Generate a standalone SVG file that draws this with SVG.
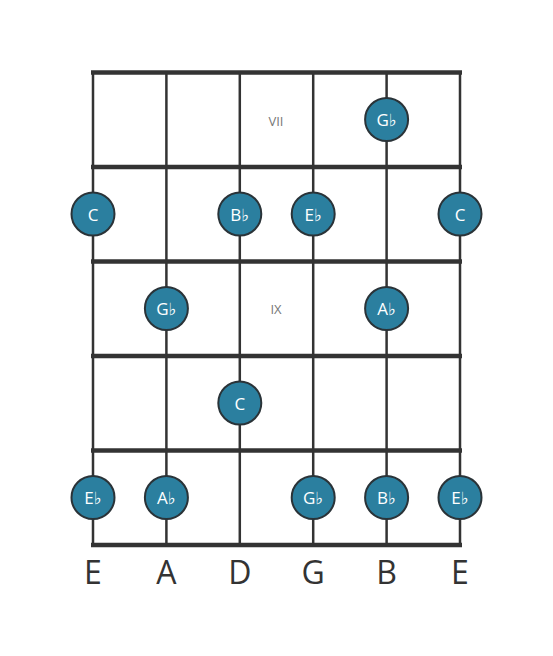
<svg xmlns="http://www.w3.org/2000/svg" width="553" height="656" viewBox="0 0 553 656">
<style>
.fret{stroke:#333;stroke-width:4.5;fill:none}
.str{stroke:#333;stroke-width:2.5;fill:none}
.dot circle{fill:#2b7f9f;stroke:#2a3338;stroke-width:2}
.dot text{fill:#fff;font-family:"Open Sans","DejaVu Sans",sans-serif;font-size:17px;text-anchor:middle;dominant-baseline:central}
.pos{fill:#777;font-family:"Open Sans",sans-serif;font-size:13px;text-anchor:middle;dominant-baseline:central}
.lbl{fill:#333;font-family:"Open Sans",sans-serif;font-size:32px;text-anchor:middle}
</style>
<rect width="553" height="656" fill="#fff"/>
<g id="connectors">
<line class="str" x1="93" y1="72" x2="93" y2="545"/>
<line class="str" x1="166.4" y1="72" x2="166.4" y2="545"/>
<line class="str" x1="239.8" y1="72" x2="239.8" y2="545"/>
<line class="str" x1="313.2" y1="72" x2="313.2" y2="545"/>
<line class="str" x1="386.6" y1="72" x2="386.6" y2="545"/>
<line class="str" x1="460" y1="72" x2="460" y2="545"/>
<line class="fret" x1="91" y1="72.5" x2="462" y2="72.5"/>
<line class="fret" x1="91" y1="167" x2="462" y2="167"/>
<line class="fret" x1="91" y1="261.5" x2="462" y2="261.5"/>
<line class="fret" x1="91" y1="356" x2="462" y2="356"/>
<line class="fret" x1="91" y1="450.5" x2="462" y2="450.5"/>
<line class="fret" x1="91" y1="545" x2="462" y2="545"/>
</g>
<text class="pos" x="276" y="121">VII</text>
<text class="pos" x="276" y="309">IX</text>
<g id="n1" class="dot"><circle cx="386.6" cy="119.5" r="21.5"/><text x="386.6" y="119.5">G♭</text></g>
<g id="n2" class="dot"><circle cx="93" cy="214" r="21.5"/><text x="93" y="214">C</text></g>
<g id="n3" class="dot"><circle cx="239.8" cy="214" r="21.5"/><text x="239.8" y="214">B♭</text></g>
<g id="n4" class="dot"><circle cx="313.2" cy="214" r="21.5"/><text x="313.2" y="214">E♭</text></g>
<g id="n5" class="dot"><circle cx="460" cy="214" r="21.5"/><text x="460" y="214">C</text></g>
<g id="n6" class="dot"><circle cx="166.4" cy="308.5" r="21.5"/><text x="166.4" y="308.5">G♭</text></g>
<g id="n7" class="dot"><circle cx="386.6" cy="308.5" r="21.5"/><text x="386.6" y="308.5">A♭</text></g>
<g id="n8" class="dot"><circle cx="239.8" cy="403" r="21.5"/><text x="239.8" y="403">C</text></g>
<g id="n9" class="dot"><circle cx="93" cy="497.5" r="21.5"/><text x="93" y="497.5">E♭</text></g>
<g id="n10" class="dot"><circle cx="166.4" cy="497.5" r="21.5"/><text x="166.4" y="497.5">A♭</text></g>
<g id="n11" class="dot"><circle cx="313.2" cy="497.5" r="21.5"/><text x="313.2" y="497.5">G♭</text></g>
<g id="n12" class="dot"><circle cx="386.6" cy="497.5" r="21.5"/><text x="386.6" y="497.5">B♭</text></g>
<g id="n13" class="dot"><circle cx="460" cy="497.5" r="21.5"/><text x="460" y="497.5">E♭</text></g>
<g id="labels">
<text class="lbl" x="93" y="584">E</text>
<text class="lbl" x="166.4" y="584">A</text>
<text class="lbl" x="239.8" y="584">D</text>
<text class="lbl" x="313.2" y="584">G</text>
<text class="lbl" x="386.6" y="584">B</text>
<text class="lbl" x="460" y="584">E</text>
</g>
</svg>
